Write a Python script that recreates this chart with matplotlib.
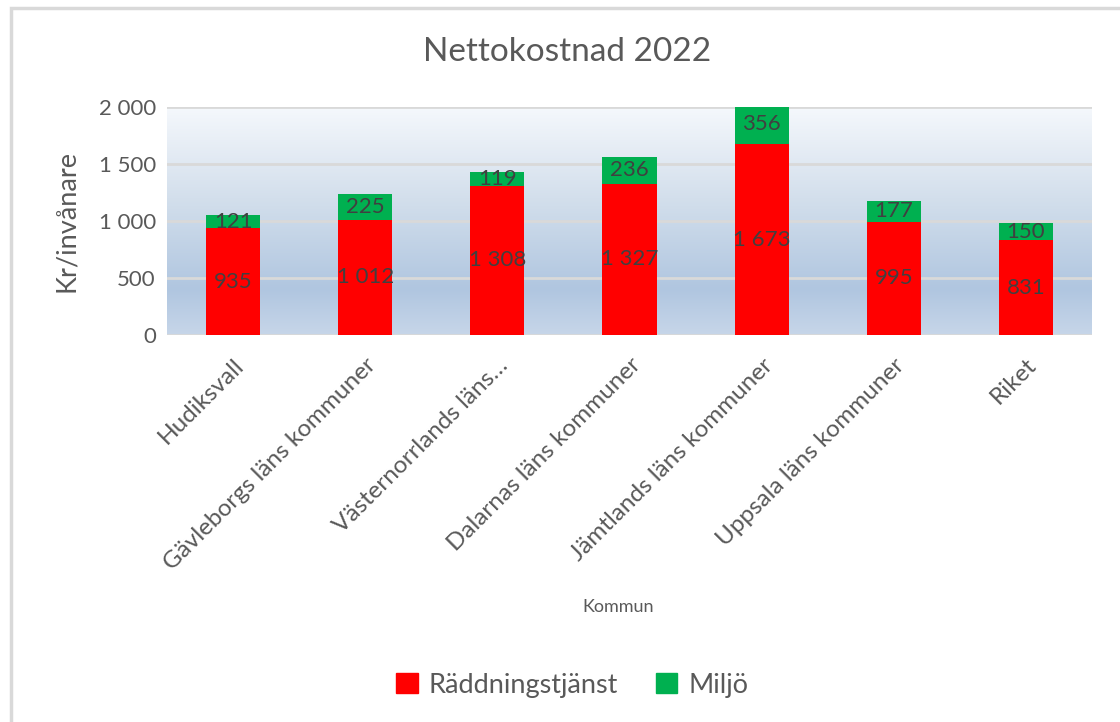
import matplotlib.pyplot as plt
import numpy as np
from matplotlib.patches import Rectangle, Patch
from matplotlib.colors import LinearSegmentedColormap

plt.rcParams['font.family'] = ['Lato', 'DejaVu Sans']

kommuner = ["Hudiksvall", "Gävleborgs läns kommuner", "Västernorrlands läns…",
            "Dalarnas läns kommuner", "Jämtlands läns kommuner",
            "Uppsala läns kommuner", "Riket"]
raddning = [935, 1012, 1308, 1327, 1673, 995, 831]
miljo = [121, 225, 119, 236, 356, 177, 150]

yticks = [0, 500, 1000, 1500, 2000]

W, H = 1120, 722
fig = plt.figure(figsize=(W / 100, H / 100), dpi=100)

# chart frame (cropped at right/bottom)
fig.patches.append(Rectangle((11 / W, -0.05), 1.2, 1 - 8 / H + 0.05,
                             transform=fig.transFigure, fill=False,
                             edgecolor="#D9D9D9", lw=2.5))

# plot area in pixels
x0, x1, ytop, ybot = 167, 1092, 107, 335
ax = fig.add_axes([x0 / W, 1 - ybot / H, (x1 - x0) / W, (ybot - ytop) / H])

def fmt(v):
    return f"{v:,}".replace(",", " ")

x = np.arange(len(kommuner))
ax.set_xlim(-0.5, len(kommuner) - 0.5)
ax.set_ylim(0, 2000)

# gradient background
cmap = LinearSegmentedColormap.from_list("bg", [(0, "#C7D6E9"), (0.2, "#B0C6E0"),
                                                (0.6, "#D3DFEC"), (1.0, "#F5F8FC")])
grad = np.linspace(0, 1, 256).reshape(-1, 1)
ax.imshow(grad, extent=(-0.5, len(kommuner) - 0.5, 0, 2000), origin="lower",
          aspect="auto", cmap=cmap, zorder=0)

for yv in yticks:
    ax.axhline(yv, color="#D9D9D9", lw=2, zorder=1)

w = 0.41
b1 = ax.bar(x, raddning, w, color="#FF0000", zorder=2, label="Räddningstjänst")
b2 = ax.bar(x, miljo, w, bottom=raddning, color="#00B050", zorder=2, label="Miljö")

for i in range(len(kommuner)):
    ax.text(x[i], raddning[i] / 2, fmt(raddning[i]), ha="center", va="center",
            fontsize=16, color="#404040", zorder=3)
    ax.text(x[i], raddning[i] + miljo[i] / 2, fmt(miljo[i]), ha="center", va="center",
            fontsize=16, color="#404040", zorder=3)

ax.set_yticks(yticks)
ax.set_yticklabels([fmt(v) for v in yticks], fontsize=16, color="#595959")
ax.set_xticks(x)
ax.set_xticklabels(kommuner, rotation=45, ha="right", rotation_mode="anchor",
                   fontsize=17.5, color="#595959")
ax.tick_params(axis="y", length=0, pad=8)
ax.tick_params(axis="x", length=0, pad=14)
for s in ax.spines.values():
    s.set_visible(False)

ax.set_ylabel("Kr/invånare", fontsize=19.5, color="#595959", labelpad=14)
fig.text(618 / W, 1 - 607 / H, "Kommun", ha="center", va="center",
         fontsize=13, color="#595959")
fig.text(567 / W, 1 - 52 / H, "Nettokostnad 2022", ha="center", va="center",
         fontsize=24, color="#595959")

handles = [Patch(color="#FF0000"), Patch(color="#00B050")]
fig.legend(handles, ["Räddningstjänst", "Miljö"], loc="center",
           bbox_to_anchor=(572 / W, 1 - 685 / H), ncol=2, frameon=False,
           fontsize=19.5, labelcolor="#595959", handlelength=0.8, handleheight=0.8,
           handletextpad=0.4, columnspacing=1.4)

fig.savefig("out.png", dpi=100)
